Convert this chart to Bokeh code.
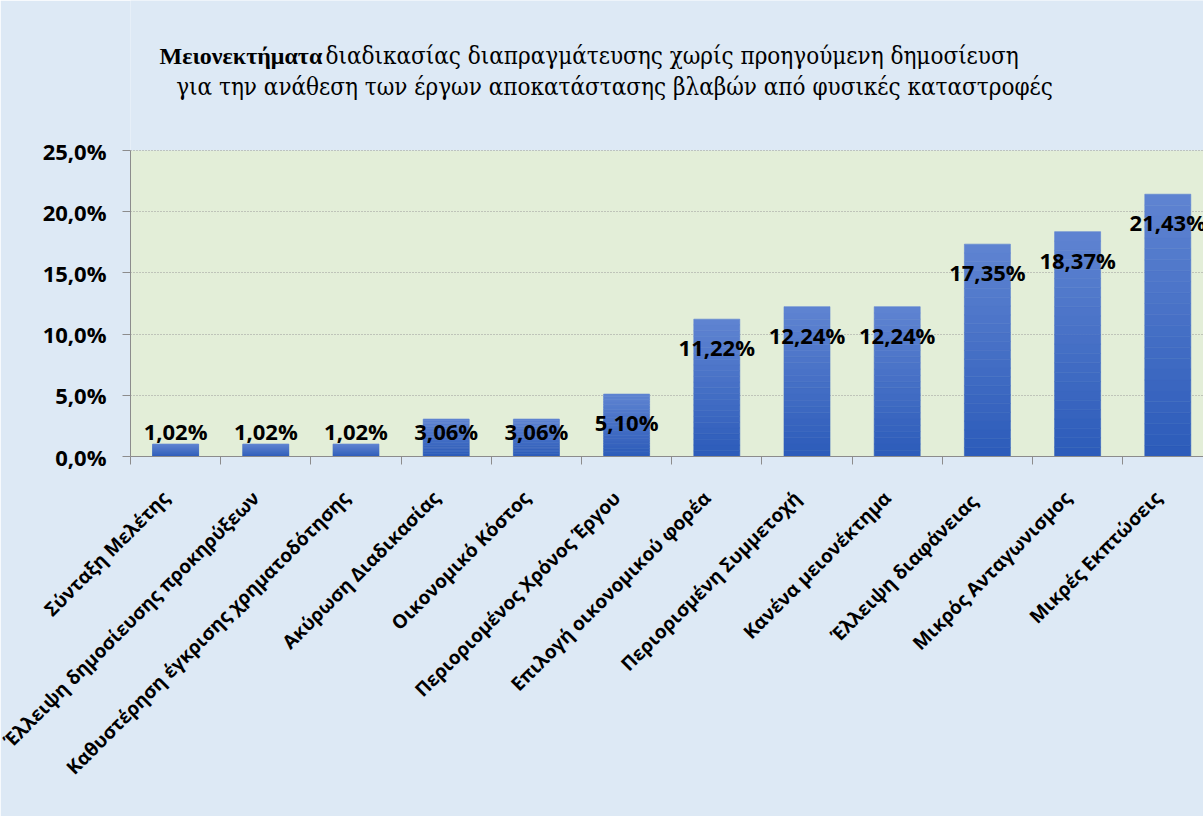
import math
import numpy as np
from bokeh.plotting import figure
from bokeh.models import Range1d, FixedTicker, Label, ColumnDataSource, BoxAnnotation
from bokeh.core.properties import value
from bokeh.embed import file_html
from bokeh.resources import INLINE

categories = [
    "Σύνταξη Μελέτης",
    "Έλλειψη δημοσίευσης προκηρύξεων",
    "Καθυστέρηση έγκρισης χρηματοδότησης",
    "Ακύρωση Διαδικασίας",
    "Οικονομικό Κόστος",
    "Περιοριομένος Χρόνος Έργου",
    "Επιλογή οικονομικού φορέα",
    "Περιορισμένη Συμμετοχή",
    "Κανένα μειονέκτημα",
    "Έλλειψη  διαφάνειας",
    "Μικρός Ανταγωνισμος",
    "Μικρές Εκπτώσεις",
]
values = [1.02, 1.02, 1.02, 3.06, 3.06, 5.10, 11.22, 12.24, 12.24, 17.35, 18.37, 21.43]
value_labels = ["1,02%", "1,02%", "1,02%", "3,06%", "3,06%", "5,10%",
                "11,22%", "12,24%", "12,24%", "17,35%", "18,37%", "21,43%"]
y_ticks = [0, 5, 10, 15, 20, 25]
y_tick_labels = ["0,0%", "5,0%", "10,0%", "15,0%", "20,0%", "25,0%"]
title_bold = "Μειονεκτήματα"
title_rest = "διαδικασίας διαπραγμάτευσης χωρίς προηγούμενη δημοσίευση"
title_line2 = "για την ανάθεση των έργων αποκατάστασης βλαβών από φυσικές καταστροφές"

CHART_BG = "#dde9f5"
PLOT_BG = "#e3eed8"
W, H = 1203, 816
LEFT, BOTTOM = 130, 360
PLOT_TOP_PX = 150            # where the 25% line sits
frame_h = H - BOTTOM         # frame reaches to the canvas top (title area inside)
cat_px = 90.2
frame_w = W - LEFT
Y_MAX = 25
px_per_unit = (frame_h - PLOT_TOP_PX) / Y_MAX
y_end = frame_h / px_per_unit

n = len(categories)
xs = np.arange(n) + 0.5
vals = np.array(values)
label_pos = xs - 0.11

p = figure(width=W, height=H, output_backend="svg", toolbar_location=None,
           x_range=Range1d(0, frame_w / cat_px), y_range=Range1d(0, y_end),
           min_border_left=LEFT, min_border_top=0, min_border_bottom=BOTTOM,
           min_border_right=0)
p.background_fill_color = CHART_BG
p.border_fill_color = CHART_BG
p.outline_line_color = None

# plot area background (0 .. 25%)
p.add_layout(BoxAnnotation(bottom=0, top=Y_MAX, fill_color=PLOT_BG, fill_alpha=1,
                           line_color=None, level="image"))

# Y axis
p.yaxis.ticker = FixedTicker(ticks=y_ticks)
p.yaxis.bounds = (0, Y_MAX)
p.yaxis.major_label_overrides = {t: l for t, l in zip(y_ticks, y_tick_labels)}
p.yaxis.major_label_text_font = "Open Sans"
p.yaxis.major_label_text_font_style = "bold"
p.yaxis.major_label_text_font_size = "22px"
p.yaxis.major_label_text_color = "#000000"
p.yaxis.major_label_standoff = 16
p.yaxis.axis_line_color = "#8c8c8c"
p.yaxis.major_tick_line_color = "#8c8c8c"
p.yaxis.major_tick_out = 8
p.yaxis.major_tick_in = 0
p.yaxis.minor_tick_line_color = None

# X axis
p.xaxis.ticker = FixedTicker(ticks=list(label_pos), minor_ticks=list(np.arange(n + 1)))
p.xaxis.major_label_overrides = {float(x): c for x, c in zip(label_pos, categories)}
p.xaxis.major_label_orientation = math.pi / 4
p.xaxis.major_label_text_font = "Open Sans"
p.xaxis.major_label_text_font_style = "bold"
p.xaxis.major_label_text_font_size = "19px"
p.xaxis.major_label_text_color = "#000000"
p.xaxis.major_label_standoff = 30
p.xaxis.axis_line_color = "#8c8c8c"
p.xaxis.major_tick_line_color = None
p.xaxis.minor_tick_line_color = "#8c8c8c"
p.xaxis.minor_tick_out = 8
p.xaxis.minor_tick_in = 0

p.xgrid.grid_line_color = None
p.ygrid.ticker = FixedTicker(ticks=y_ticks[1:])
p.ygrid.grid_line_color = "#9a9a9a"
p.ygrid.grid_line_dash = "1 2"
p.ygrid.grid_line_width = 1

# bars with vertical gradient (per bar)
top_rgb = np.array([0x5f, 0x84, 0xd2])
bot_rgb = np.array([0x2c, 0x5b, 0xb9])
N = 24
for k in range(N):
    f0, f1 = k / N, (k + 1) / N
    t = (k + 0.5) / N
    c = bot_rgb + (top_rgb - bot_rgb) * t
    col = "#%02x%02x%02x" % tuple(int(round(v)) for v in c)
    p.vbar(x=xs, bottom=vals * f0, top=vals * f1, width=0.51,
           fill_color=col, line_color=col, line_width=0.6)

# value labels
src = ColumnDataSource(dict(x=xs, y=np.maximum(vals - 2.3, 2.1), t=value_labels))
p.text(x="x", y="y", text="t", source=src, text_align="center", text_baseline="middle",
       text_font=value("Open Sans"), text_font_style="bold", text_font_size="22px",
       text_color="#000000")

# title (screen units: x from frame left, y up from frame bottom)
for txt, x_px, y_px, font, style, size, align in [
    (title_bold, 159, 55, "Liberation Serif", "bold", "24px", "left"),
    (title_rest, 325, 55, "DejaVu Serif Condensed", "normal", "24px", "left"),
    (title_line2, 614, 86, "DejaVu Serif Condensed", "normal", "24px", "center"),
]:
    p.add_layout(Label(x=x_px - LEFT, y=frame_h - y_px, x_units="screen", y_units="screen",
                       text=txt, text_font=font, text_font_style=style,
                       text_font_size=size, text_color="#000000",
                       text_align=align, text_baseline="alphabetic"))

open("out.html", "w").write(file_html(p, INLINE))
